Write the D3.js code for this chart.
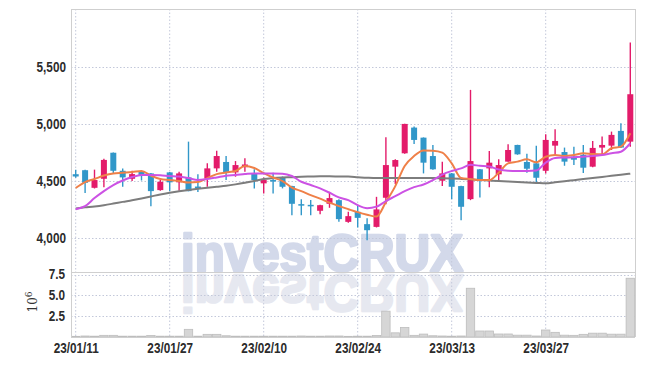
<!DOCTYPE html>
<html><head><meta charset="utf-8">
<script src="https://cdn.jsdelivr.net/npm/d3@7"></script>
<style>
body{margin:0;background:#fff;}
svg{display:block;}
.tick text{font-family:"Liberation Sans",Arial,sans-serif;font-weight:bold;fill:#2b2b2b;}
</style>
</head><body>
<svg id="c" width="645" height="366"></svg>
<script>
const dates = ["23/01/11","23/01/12","23/01/13","23/01/16","23/01/17","23/01/18","23/01/19","23/01/20","23/01/25","23/01/26",
"23/01/27","23/01/30","23/01/31","23/02/01","23/02/02","23/02/03","23/02/06","23/02/07","23/02/08","23/02/09",
"23/02/10","23/02/13","23/02/14","23/02/15","23/02/16","23/02/17","23/02/20","23/02/21","23/02/22","23/02/23",
"23/02/24","23/02/27","23/02/28","23/03/02","23/03/03","23/03/06","23/03/07","23/03/08","23/03/09","23/03/10",
"23/03/13","23/03/14","23/03/15","23/03/16","23/03/17","23/03/20","23/03/21","23/03/22","23/03/23","23/03/24",
"23/03/27","23/03/28","23/03/29","23/03/30","23/03/31","23/04/03","23/04/04","23/04/05","23/04/06","23/04/07"];
const open  = [4560,4595,4441,4520,4748,4590,4520,4580,4567,4421,4576,4489,4532,4452,4524,4611,4667,4576,4622,4567,
               4480,4509,4532,4456,4298,4292,4240,4301,4333,4143,4231,4123,4099,4354,4626,4743,4968,4880,4719,4503,
               4567,4456,4342,4603,4611,4559,4670,4816,4667,4655,4590,4810,4754,4713,4730,4626,4793,4810,4939,4845];
const high  = [4600,4598,4600,4695,4750,4610,4590,4585,4570,4510,4580,4582,4845,4560,4655,4765,4720,4675,4700,4603,
               4532,4573,4540,4460,4340,4335,4292,4406,4340,4231,4281,4175,4362,4883,4690,5002,4977,4882,4815,4670,
               4570,4460,5298,4606,4763,4690,4822,4818,4740,4810,4910,4953,4793,4800,4816,4851,4889,4933,5006,5713];
const low   = [4530,4395,4435,4445,4565,4450,4500,4505,4280,4415,4412,4415,4410,4405,4450,4582,4510,4538,4582,4436,
               4392,4392,4436,4200,4200,4200,4210,4266,4143,4135,4094,3982,4094,4298,4474,4740,4825,4567,4600,4456,
               4340,4158,4333,4357,4445,4509,4668,4730,4573,4475,4567,4728,4634,4640,4570,4620,4725,4772,4790,4800];
const close = [4540,4485,4509,4685,4590,4532,4561,4553,4412,4494,4489,4567,4412,4445,4611,4719,4576,4640,4645,4509,
               4509,4496,4450,4301,4285,4285,4289,4351,4167,4193,4178,4070,4252,4640,4684,5000,4860,4661,4603,4567,
               4450,4275,4675,4509,4661,4640,4772,4734,4608,4529,4860,4851,4670,4687,4617,4790,4816,4904,4793,5260];
const maShort = [4439,4491,4518,4548,4567,4573,4579,4588,4548,4518,4509,4500,4487,4491,4526,4561,4575,4588,4632,4614,
                 4570,4531,4500,4443,4412,4377,4346,4311,4281,4254,4228,4206,4189,4316,4456,4632,4719,4768,4766,4749,
                 4655,4527,4518,4509,4509,4573,4655,4670,4690,4664,4713,4728,4719,4728,4743,4737,4734,4787,4801,4918];
const maMid   = [4254,4280,4351,4412,4465,4505,4535,4553,4553,4550,4544,4540,4526,4509,4518,4532,4547,4553,4561,4567,
                 4567,4567,4565,4544,4494,4465,4436,4398,4357,4333,4289,4263,4276,4325,4368,4412,4447,4470,4509,4557,
                 4588,4611,4642,4634,4627,4601,4590,4588,4588,4592,4662,4702,4706,4708,4713,4719,4728,4743,4757,4831];
const maLong  = [4261,4270,4278,4289,4303,4318,4332,4348,4365,4383,4398,4411,4422,4432,4441,4450,4459,4471,4485,4501,
                 4518,4526,4531,4534,4538,4540,4542,4542,4540,4539,4534,4529,4526,4526,4526,4526,4526,4526,4526,4524,
                 4522,4519,4515,4510,4505,4500,4496,4492,4488,4484,4480,4489,4498,4508,4518,4527,4536,4546,4555,4565];
const volume  = [0.08,0.12,0.1,0.2,0.2,0.1,0.1,0.1,0.18,0.1,0.1,0.1,0.92,0.1,0.32,0.32,0.15,0.1,0.1,0.1,
                 0.1,0.1,0.1,0.1,0.12,0.1,0.1,0.12,0.12,0.08,0.1,0.1,0.18,3.1,0.5,1.15,0.2,0.35,0.15,0.12,
                 0.1,0.12,5.85,0.72,0.72,0.36,0.36,0.22,0.22,0.12,0.84,0.56,0.22,0.2,0.32,0.46,0.46,0.34,0.34,7.05];
const priceTicks = [4000,4500,5000,5500];
const volTicks = [2.5,5.0,7.5];
const dateTickIdx = [0,10,20,30,40,50];

const L=71,R=635,T=9,MB=272,VB=337;
const svg=d3.select("#c");
const idx=d3.range(dates.length);
const x=d3.scalePoint().domain(idx).range([L,R]).padding(0.5);
const step=x.step();
const y=d3.scaleLinear().domain([4000,5500]).range([238.2,66.8]);
const yv=d3.scaleLinear().domain([0,7.5]).range([VB,274.5]);

// watermark
const wm=svg.append("g").style("font-family","Liberation Sans, Arial, sans-serif").style("font-weight","bold").style("font-size","52px")
  .attr("stroke-width",2.6).attr("stroke-linejoin","round");
wm.append("text").attr("x",181).attr("y",270.5).attr("textLength",282).attr("lengthAdjust","spacingAndGlyphs")
  .attr("fill","#d3d9ea").attr("stroke","#d3d9ea").text("investCRUX");
wm.append("text").attr("x",181).attr("y",270.5).attr("textLength",282).attr("lengthAdjust","spacingAndGlyphs")
  .attr("transform","translate(0,545) scale(1,-1)")
  .attr("fill","#e6e8f0").attr("stroke","#e6e8f0").text("investCRUX");

// gridlines
const grid=svg.append("g").attr("stroke","#c3c8da").attr("stroke-width",1).attr("stroke-dasharray","1.5,2");
priceTicks.forEach(p=>grid.append("line").attr("x1",L).attr("x2",R).attr("y1",Math.round(y(p))+0.5).attr("y2",Math.round(y(p))+0.5));
volTicks.forEach(v=>grid.append("line").attr("x1",L).attr("x2",R).attr("y1",Math.round(yv(v))+0.5).attr("y2",Math.round(yv(v))+0.5));
dateTickIdx.forEach(i=>grid.append("line").attr("x1",x(i)).attr("x2",x(i)).attr("y1",T).attr("y2",VB));

// volume bars
svg.append("g").selectAll("rect").data(idx).join("rect")
  .attr("x",i=>x(i)-step/2+0.5).attr("width",step-1)
  .attr("y",i=>yv(volume[i])).attr("height",i=>VB-yv(volume[i]))
  .attr("fill","#d6d6d6").attr("stroke","#bdbdbd").attr("stroke-width",0.8);

// borders
const bd=svg.append("g").attr("stroke","#cfcfcf").attr("stroke-width",1).attr("fill","none");
bd.append("line").attr("x1",L).attr("x2",R).attr("y1",T+0.5).attr("y2",T+0.5);
bd.append("line").attr("x1",L).attr("x2",R).attr("y1",MB+0.5).attr("y2",MB+0.5);
bd.append("line").attr("x1",L).attr("x2",R).attr("y1",VB+0.5).attr("y2",VB+0.5);
bd.append("line").attr("x1",L+0.5).attr("x2",L+0.5).attr("y1",T).attr("y2",VB);
bd.append("line").attr("x1",R+0.5).attr("x2",R+0.5).attr("y1",T).attr("y2",VB);

// candles
const UP="#e31b6a",DN="#3197c9";
const cg=svg.append("g");
const col=i=>close[i]>=open[i]?UP:DN;
cg.selectAll("line").data(idx).join("line")
  .attr("x1",i=>x(i)).attr("x2",i=>x(i)).attr("y1",i=>y(high[i])).attr("y2",i=>y(low[i]))
  .attr("stroke",col).attr("stroke-width",1.4);
cg.selectAll("rect").data(idx).join("rect")
  .attr("x",i=>x(i)-3).attr("width",6)
  .attr("y",i=>y(Math.max(open[i],close[i])))
  .attr("height",i=>Math.max(1.5,Math.abs(y(open[i])-y(close[i]))))
  .attr("fill",col);

// moving averages
const line=arr=>d3.line().x(i=>x(i)).y(i=>y(arr[i])).curve(d3.curveMonotoneX)(idx);
svg.append("path").attr("d",line(maLong)).attr("fill","none").attr("stroke","#7d7d7d").attr("stroke-width",2);
svg.append("path").attr("d",line(maShort)).attr("fill","none").attr("stroke","#ef8048").attr("stroke-width",2);
svg.append("path").attr("d",line(maMid)).attr("fill","none").attr("stroke","#cc52e4").attr("stroke-width",2);

// axes
function styleAxis(g){
  g.select(".domain").remove();
  g.selectAll("text").style("font-size","14px").attr("transform","scale(0.84,1)");
}
const ay=svg.append("g").attr("transform",`translate(${L},0)`)
  .call(d3.axisLeft(y).tickValues(priceTicks).tickFormat(d3.format(",")).tickSize(0).tickPadding(6));
styleAxis(ay);
const av=svg.append("g").attr("transform",`translate(${L},0)`)
  .call(d3.axisLeft(yv).tickValues(volTicks).tickFormat(d3.format(".1f")).tickSize(0).tickPadding(7));
styleAxis(av);
const ax=svg.append("g").attr("transform",`translate(0,${VB})`)
  .call(d3.axisBottom(x).tickValues(dateTickIdx).tickFormat(i=>dates[i]).tickSize(0).tickPadding(6));
styleAxis(ax);

// 10^6 label
const lab=svg.append("text").attr("transform","translate(37,302) rotate(-90)").attr("text-anchor","middle")
  .style("font-family","DejaVu Serif, serif").style("font-size","12px").attr("fill","#333");
lab.append("tspan").text("10");
lab.append("tspan").attr("dy",-5).style("font-size","9px").text("6");
</script>
</body></html>
